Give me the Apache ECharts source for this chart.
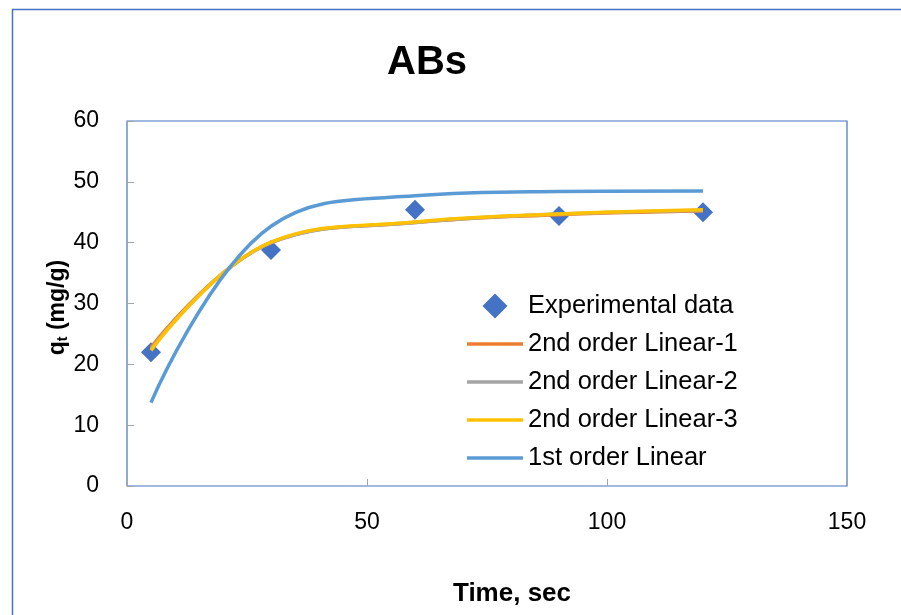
<!DOCTYPE html>
<html>
<head>
<meta charset="utf-8">
<title>ABs</title>
<script src="https://cdn.jsdelivr.net/npm/echarts@6/dist/echarts.min.js"></script>
<style>
  html, body { margin: 0; padding: 0; background: #fff; }
  #chart { width: 901px; height: 615px; }
</style>
</head>
<body>
<div id="chart"></div>
<script>
// Contact time (sec) and adsorbed amount q_t (mg/g)
const timeSec = [5, 30, 60, 90, 120];
const experimental = [22.0, 38.8, 45.4, 44.4, 45.0];
const secondOrder1 = [22.8, 40.0, 43.3, 44.6, 45.2];
const secondOrder2 = [22.5, 40.0, 43.3, 44.7, 45.3];
const secondOrder3 = [22.3, 40.1, 43.4, 44.7, 45.4];
const firstOrder = [13.7, 42.7, 47.7, 48.4, 48.5];

const xTicks = [0, 50, 100, 150];
const yTicks = [0, 10, 20, 30, 40, 50, 60];

const seriesNames = [
  'Experimental data',
  '2nd order Linear-1',
  '2nd order Linear-2',
  '2nd order Linear-3',
  '1st order Linear'
];

const pairs = (ys) => timeSec.map((t, i) => [t, ys[i]]);

const FONT = 'Liberation Sans, Arial, sans-serif';
const lineIcon = 'path://M0,0L56,0L56,3.5L0,3.5Z';
const diamondIcon = 'path://M0,10L10,0L20,10L10,20Z';

const chart = echarts.init(document.getElementById('chart'), null, { renderer: 'canvas' });

function lineSeries(name, ys, color) {
  return {
    name: name,
    type: 'line',
    data: pairs(ys),
    smooth: 0.4,
    symbol: 'none',
    lineStyle: { color: color, width: 3.5 },
    itemStyle: { color: color },
    emphasis: { disabled: true }
  };
}

chart.setOption({
  animation: false,
  backgroundColor: '#ffffff',
  title: {
    text: 'ABs',
    left: 382,
    top: 38,
    textStyle: { fontFamily: FONT, fontSize: 40, fontWeight: 'bold', color: '#000' }
  },
  graphic: [{
    type: 'rect',
    shape: { x: 12.5, y: 9.5, width: 1000, height: 1000 },
    style: { fill: null, stroke: '#4472C4', lineWidth: 1.5 },
    silent: true
  }],
  grid: {
    left: 127, top: 121, right: 54, bottom: 129,
    show: true, borderColor: '#4472C4', borderWidth: 1.2,
    containLabel: false
  },
  legend: {
    orient: 'vertical',
    left: 462,
    top: 288,
    itemWidth: 56,
    itemHeight: 25,
    itemGap: 12,
    textStyle: { fontFamily: FONT, fontSize: 25.5, color: '#000', lineHeight: 25 },
    data: [
      { name: seriesNames[0], icon: diamondIcon },
      { name: seriesNames[1], icon: lineIcon },
      { name: seriesNames[2], icon: lineIcon },
      { name: seriesNames[3], icon: lineIcon },
      { name: seriesNames[4], icon: lineIcon }
    ],
    selectedMode: false
  },
  xAxis: {
    type: 'value',
    min: xTicks[0],
    max: xTicks[xTicks.length - 1],
    interval: 50,
    name: 'Time, sec',
    nameLocation: 'middle',
    nameGap: 95,
    nameMoveOverlap: false,
    nameTextStyle: { fontFamily: FONT, fontSize: 26, fontWeight: 'bold', color: '#000', padding: [0, 0, 0, 50] },
    axisLine: { show: false },
    axisTick: { show: true, inside: true, length: 7, lineStyle: { color: '#A6A6A6', width: 1 } },
    axisLabel: { margin: 25, fontFamily: FONT, fontSize: 23, color: '#000' },
    splitLine: { show: false }
  },
  yAxis: {
    type: 'value',
    min: yTicks[0],
    max: yTicks[yTicks.length - 1],
    interval: 10,
    name: '{q|q}{t|t}{q| (mg/g)}',
    nameLocation: 'middle',
    nameRotate: 90,
    nameGap: 57,
    nameMoveOverlap: false,
    nameTextStyle: {
      padding: [0, 8, 0, 0],
      rich: {
        q: { fontFamily: FONT, fontSize: 23, fontWeight: 'bold', color: '#000' },
        t: { fontFamily: FONT, fontSize: 14, fontWeight: 'bold', color: '#000', verticalAlign: 'bottom', padding: [11, 0, 0, 0] }
      }
    },
    axisLine: { show: false },
    axisTick: { show: true, inside: true, length: 7, lineStyle: { color: '#A6A6A6', width: 1 } },
    axisLabel: { margin: 28, fontFamily: FONT, fontSize: 23, color: '#000' },
    splitLine: { show: false }
  },
  series: [
    {
      name: seriesNames[0],
      type: 'scatter',
      data: pairs(experimental),
      symbol: 'diamond',
      symbolSize: 20,
      itemStyle: { color: '#4472C4', opacity: 1 },
      emphasis: { disabled: true }
    },
    lineSeries(seriesNames[1], secondOrder1, '#ED7D31'),
    lineSeries(seriesNames[2], secondOrder2, '#A5A5A5'),
    lineSeries(seriesNames[3], secondOrder3, '#FFC000'),
    lineSeries(seriesNames[4], firstOrder, '#5B9BD5')
  ]
});
</script>
</body>
</html>
